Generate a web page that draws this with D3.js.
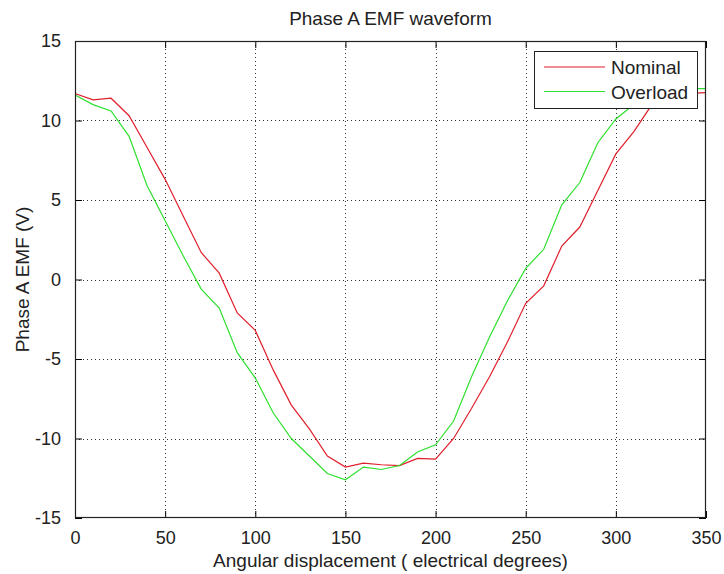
<!DOCTYPE html>
<html><head><meta charset="utf-8">
<script src="https://cdn.jsdelivr.net/npm/d3@7"></script>
<style>
body{margin:0;background:#fff;}
text{font-family:"Liberation Sans",Arial,sans-serif;fill:#222;}
</style></head>
<body><svg id="c" width="724" height="574"></svg>
<script>
const angles = [0,10,20,30,40,50,60,70,80,90,100,110,120,130,140,150,160,170,180,190,200,210,220,230,240,250,260,270,280,290,300,310,320,330,340,350];
const nominal = [11.7,11.3,11.4,10.3,8.3,6.3,4.0,1.7,0.4,-2.1,-3.2,-5.7,-7.9,-9.4,-11.1,-11.8,-11.55,-11.65,-11.7,-11.25,-11.3,-10.0,-8.1,-6.1,-3.9,-1.5,-0.4,2.1,3.3,5.6,7.9,9.3,11.0,11.5,11.7,11.75];
const overload = [11.6,11.0,10.6,9.0,5.9,3.7,1.5,-0.6,-1.8,-4.6,-6.2,-8.4,-10.0,-11.1,-12.2,-12.6,-11.8,-11.95,-11.7,-10.85,-10.4,-8.9,-6.1,-3.6,-1.3,0.7,1.9,4.7,6.1,8.6,10.1,11.0,11.6,11.8,12.0,12.0];
const xTicks = [0,50,100,150,200,250,300,350];
const yTicks = [-15,-10,-5,0,5,10,15];
const seriesNames = ["Nominal","Overload"];
const seriesColors = ["#e0202c","#2ee02e"];

const svg = d3.select("#c");
const L=75,R=706,T=41,B=518;
const x = d3.scaleLinear().domain([0,350]).range([L,R]);
const y = d3.scaleLinear().domain([-15,15]).range([B,T]);

// grid
const g = svg.append("g");
g.selectAll(".gx").data(xTicks.slice(1,-1)).enter().append("line")
 .attr("x1",d=>Math.round(x(d))+0.5).attr("x2",d=>Math.round(x(d))+0.5).attr("y1",T).attr("y2",B)
 .attr("stroke","#333").attr("stroke-width",1).attr("stroke-dasharray","1,3");
g.selectAll(".gy").data(yTicks.slice(1,-1)).enter().append("line")
 .attr("y1",d=>Math.round(y(d))+0.5).attr("y2",d=>Math.round(y(d))+0.5).attr("x1",L).attr("x2",R)
 .attr("stroke","#333").attr("stroke-width",1).attr("stroke-dasharray","1,3");

// lines
const line = d3.line().x((d,i)=>x(angles[i])).y(d=>y(d));
[nominal,overload].forEach((s,k)=>{
  svg.append("path").datum(s).attr("d",line).attr("fill","none")
   .attr("stroke",seriesColors[k]).attr("stroke-width",1.2);
});

// axes
const fs = 18;
const fmt = d=>String(d);
const ax = svg.append("g").attr("transform",`translate(0,${B})`)
 .call(d3.axisBottom(x).tickValues(xTicks).tickSize(-7).tickPadding(13).tickFormat(fmt));
const axTop = svg.append("g").attr("transform",`translate(0,${T})`)
 .call(d3.axisTop(x).tickValues(xTicks).tickSize(-7).tickFormat(""));
const ay = svg.append("g").attr("transform",`translate(${L},0)`)
 .call(d3.axisLeft(y).tickValues(yTicks).tickSize(-7).tickPadding(14).tickFormat(fmt));
const ayR = svg.append("g").attr("transform",`translate(${R},0)`)
 .call(d3.axisRight(y).tickValues(yTicks).tickSize(-7).tickFormat(""));
[ax,axTop,ay,ayR].forEach(a=>{
  a.select(".domain").remove();
  a.selectAll(".tick line").attr("stroke","#000");
  a.selectAll("text").style("font-size",fs+"px").attr("fill","#222").style("font-family","Liberation Sans, Arial, sans-serif");
});
svg.append("rect").attr("x",L+0.5).attr("y",T+0.5).attr("width",R-L-1).attr("height",B-T-1)
 .attr("fill","none").attr("stroke","#222").attr("stroke-width",1.2);

// title & labels
svg.append("text").attr("x",(L+R)/2).attr("y",25).attr("text-anchor","middle").style("font-size","19px").text("Phase A EMF waveform");
svg.append("text").attr("x",(L+R)/2).attr("y",567).attr("text-anchor","middle").style("font-size","19px").text("Angular displacement ( electrical degrees)");
svg.append("text").attr("transform",`translate(29,${(T+B)/2}) rotate(-90)`).attr("text-anchor","middle").style("font-size","19px").text("Phase A EMF (V)");

// legend
const lg = svg.append("g");
lg.append("rect").attr("x",534.5).attr("y",51.5).attr("width",163).attr("height",57).attr("fill","#fff").attr("stroke","#222").attr("stroke-width",1);
seriesNames.forEach((n,k)=>{
  const yy = 67 + k*24.5;
  lg.append("line").attr("x1",544).attr("x2",605).attr("y1",yy).attr("y2",yy).attr("stroke",seriesColors[k]).attr("stroke-width",1.2);
  lg.append("text").attr("x",611).attr("y",yy+7).style("font-size","19px").text(n);
});
</script></body></html>
